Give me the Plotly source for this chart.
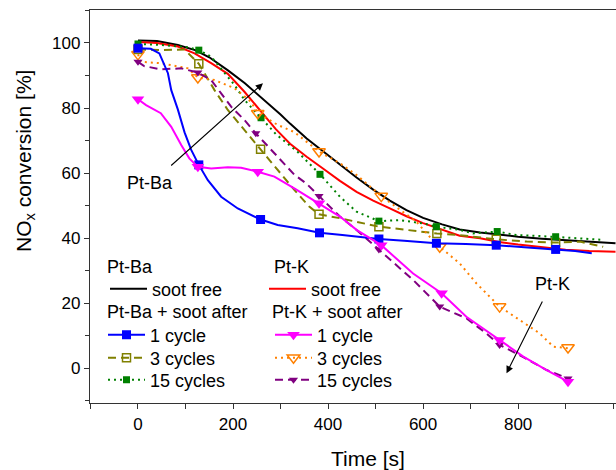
import plotly.graph_objects as go

FONT = "Liberation Sans, Arial, sans-serif"

# ---------------- data (time [s], NOx conversion [%]) ----------------
# Pt-Ba soot free (black)
ba_free_t = [0, 40, 84, 120, 150, 190, 225, 260, 300, 320, 355, 390, 425, 460, 495, 530, 565, 600, 640, 677, 720, 760, 800, 850, 900, 950, 1005]
ba_free_y = [100.8, 100.6, 99.4, 97.8, 95.6, 91.5, 87.6, 83.2, 78.0, 75.2, 70.6, 66.6, 62.5, 58.6, 54.9, 51.5, 48.6, 46.2, 44.2, 42.6, 41.7, 41.0, 40.4, 39.8, 39.3, 38.9, 38.4]

# Pt-K soot free (red)
k_free_t = [0, 40, 84, 119, 154, 189, 224, 259, 290, 320, 355, 390, 425, 460, 495, 530, 565, 600, 640, 677, 720, 760, 800, 850, 900, 950, 1005]
k_free_y = [100.3, 100.0, 98.9, 96.8, 93.8, 90.5, 85.0, 79.0, 73.5, 69.0, 65.0, 61.3, 57.6, 54.2, 51.5, 49.1, 46.7, 44.6, 42.6, 40.7, 39.9, 38.8, 38.0, 37.1, 36.4, 36.0, 35.8]

# Pt-Ba + soot after 1 cycle (blue)
ba1_t = [0, 27, 45, 63, 70, 84, 98, 112, 128, 147, 175, 210, 258, 294, 336, 382, 430, 507, 560, 628, 690, 754, 820, 879, 920, 955]
ba1_y = [98.4, 98.2, 96.8, 90.7, 85.5, 79.5, 72.5, 67.1, 62.5, 57.8, 52.7, 49.1, 45.7, 44.0, 43.0, 41.6, 40.9, 39.7, 39.2, 38.4, 38.2, 37.8, 37.1, 36.5, 36.0, 35.3]
ba1_mt = [0, 128, 258, 382, 507, 628, 754, 879]
ba1_my = [98.4, 62.5, 45.7, 41.6, 39.7, 38.4, 37.8, 36.5]

# Pt-Ba + soot after 3 cycles (olive)
ba3_t = [0, 48, 98, 128, 140, 161, 189, 217, 258, 294, 329, 361, 381, 425, 460, 507, 565, 629, 677, 705, 754, 818, 879, 930, 979]
ba3_y = [98.0, 97.8, 98.0, 93.6, 90.7, 85.5, 79.4, 74.5, 67.3, 60.9, 54.8, 49.6, 47.3, 46.1, 45.0, 43.5, 42.5, 41.4, 40.9, 40.4, 39.6, 38.9, 38.6, 38.9, 37.3]
ba3_mt = [0, 128, 258, 381, 507, 629, 754, 879]
ba3_my = [98.0, 93.6, 67.3, 47.3, 43.5, 41.4, 39.6, 38.6]

# Pt-Ba + soot after 15 cycles (green)
ba15_t = [0, 48, 105, 128, 154, 182, 203, 224, 259, 290, 336, 383, 425, 460, 507, 551, 600, 628, 677, 705, 756, 797, 846, 879, 930, 980]
ba15_y = [99.7, 99.4, 98.7, 97.8, 95.8, 90.7, 87.1, 82.5, 77.0, 72.0, 66.5, 59.6, 52.7, 48.1, 45.2, 45.5, 44.5, 43.5, 42.5, 41.4, 42.0, 40.9, 40.6, 40.4, 39.9, 39.4]
ba15_mt = [0, 128, 259, 383, 507, 628, 756, 879]
ba15_my = [99.7, 97.8, 77.0, 59.6, 45.2, 43.5, 42.0, 40.4]

# Pt-K + soot after 1 cycle (magenta)
k1_t = [0, 17, 48, 70, 91, 108, 126, 154, 189, 217, 252, 287, 329, 381, 425, 460, 512, 579, 639, 691, 761, 811, 860, 905]
k1_y = [82.7, 80.9, 78.4, 74.2, 68.6, 64.5, 61.9, 61.4, 61.8, 61.6, 60.4, 58.9, 55.3, 50.7, 46.6, 42.5, 37.8, 29.1, 23.0, 15.8, 8.6, 3.5, -0.6, -4.2]
k1_mt = [0, 126, 252, 381, 512, 639, 761, 905]
k1_my = [82.7, 61.9, 60.4, 50.7, 37.8, 23.0, 8.6, -4.2]

# Pt-K + soot after 3 cycles (orange)
k3_t = [0, 6, 48, 105, 126, 161, 203, 238, 252, 294, 329, 381, 425, 460, 512, 551, 586, 614, 635, 677, 712, 761, 803, 845, 874, 905]
k3_y = [96.5, 94.2, 93.8, 92.2, 89.4, 88.6, 86.1, 81.9, 78.4, 74.8, 72.6, 66.6, 63.0, 59.4, 52.9, 48.6, 45.0, 40.4, 37.3, 32.2, 26.1, 18.9, 14.8, 10.7, 6.6, 6.1]
k3_mt = [0, 126, 252, 381, 512, 635, 761, 905]
k3_my = [96.5, 89.4, 78.4, 66.6, 52.9, 37.3, 18.9, 6.3]

# Pt-K + soot after 15 cycles (purple)
k15_t = [0, 13, 48, 91, 126, 154, 175, 196, 224, 248, 294, 329, 354, 381, 425, 460, 507, 579, 635, 691, 733, 761, 803, 860, 905]
k15_y = [94.2, 92.9, 91.9, 92.2, 90.9, 88.6, 84.5, 80.4, 76.3, 72.2, 65.0, 59.5, 56.8, 52.9, 46.6, 42.5, 36.5, 27.1, 18.9, 15.3, 10.7, 7.1, 4.0, -0.6, -3.2]
k15_mt = [0, 126, 248, 381, 507, 635, 761, 905]
k15_my = [94.2, 90.9, 72.2, 52.9, 36.5, 18.9, 7.1, -3.2]

x_ticks = [0, 200, 400, 600, 800]
y_ticks = [0, 20, 40, 60, 80, 100]

# ---------------- figure ----------------
fig = go.Figure()

def add_series(t, y, mt, my, color, dash, symbol, msize, name, legend, open_marker=False):
    fig.add_trace(go.Scatter(x=t, y=y, mode="lines",
                             line=dict(color=color, width=2, dash=dash),
                             showlegend=False, hoverinfo="skip"))
    mk = None
    if mt is not None:
        mk = dict(symbol=symbol, size=msize, color=color,
                  line=dict(color=color, width=1.5 if open_marker else 0))
        fig.add_trace(go.Scatter(x=mt, y=my, mode="markers", marker=mk,
                                 showlegend=False, hoverinfo="skip"))
    fig.add_trace(go.Scatter(x=[None], y=[None],
                             mode="lines+markers" if mk else "lines",
                             line=dict(color=color, width=2, dash=dash),
                             marker=mk, name=name, legend=legend,
                             showlegend=True))

add_series(ba_free_t, ba_free_y, None, None, "#000000", "solid", None, 0, "soot free", "legend")
add_series(k_free_t, k_free_y, None, None, "#ff0000", "solid", None, 0, "soot free", "legend5")
add_series(ba3_t, ba3_y, ba3_mt, ba3_my, "#808000", "8px,5px", "square-open", 8, "3 cycles", "legend3", True)
add_series(ba15_t, ba15_y, ba15_mt, ba15_my, "#008000", "2px,4px", "square", 7, "15 cycles", "legend4")
add_series(k3_t, k3_y, k3_mt, k3_my, "#ff8000", "2px,4px", "triangle-down-open", 11, "3 cycles", "legend7", True)
add_series(k15_t, k15_y, k15_mt, k15_my, "#800080", "8px,5px", "triangle-down", 8, "15 cycles", "legend8")
add_series(ba1_t, ba1_y, ba1_mt, ba1_my, "#0000ff", "solid", "square", 9, "1 cycle", "legend2")
add_series(k1_t, k1_y, k1_mt, k1_my, "#ff00ff", "solid", "triangle-down", 11, "1 cycle", "legend6")

# plot area geometry (pixels) for legend placement
L, R, T, B = 90, 0, 10, 67
W, H = 616, 470
PW, PH = W - L - R, H - T - B

def px(xp):
    return (xp - L) / PW

def py(yp):
    return (H - B - yp) / PH

legend_rows = {
    "legend": (105, 289), "legend2": (103, 335), "legend3": (103, 358), "legend4": (103, 380),
    "legend5": (264, 289), "legend6": (270, 335), "legend7": (270, 358), "legend8": (270, 380),
}
for key, (lx, ly) in legend_rows.items():
    fig.update_layout({key: dict(x=px(lx), y=py(ly), xanchor="left", yanchor="middle",
                                 bgcolor="rgba(0,0,0,0)", borderwidth=0, itemwidth=37,
                                 font=dict(family=FONT, size=18, color="black"),
                                 tracegroupgap=0)})

annotations = [
    dict(text="Pt-Ba", x=px(105), y=py(267), xanchor="left"),
    dict(text="Pt-Ba + soot after", x=px(105), y=py(312), xanchor="left"),
    dict(text="Pt-K", x=px(272), y=py(267), xanchor="left"),
    dict(text="Pt-K + soot after", x=px(270), y=py(312), xanchor="left"),
    dict(text="NO<sub>x</sub> conversion [%]", x=px(25), y=py(161), xanchor="center",
         textangle=-90, font=dict(family=FONT, size=21, color="black")),
    dict(text="Time [s]", x=px(368), y=py(458), xanchor="center",
         font=dict(family=FONT, size=21, color="black")),
]
for a in annotations:
    a.update(xref="paper", yref="paper", showarrow=False, yanchor="middle")
    a.setdefault("font", dict(family=FONT, size=18, color="black"))
    fig.add_annotation(**a)

# arrows and labels in data coordinates
fig.add_annotation(x=263, y=87.6, ax=66.7, ay=61.9, xref="x", yref="y", axref="x", ayref="y",
                   text="", showarrow=True, arrowhead=2, arrowsize=1.3, arrowwidth=1.1,
                   arrowcolor="black", standoff=0)
fig.add_annotation(x=775.6, y=-1.6, ax=852.6, ay=20.9, xref="x", yref="y", axref="x", ayref="y",
                   text="", showarrow=True, arrowhead=2, arrowsize=1.3, arrowwidth=1.1,
                   arrowcolor="black", standoff=0)
fig.add_annotation(x=25.7, y=56.9, xref="x", yref="y", text="Pt-Ba", showarrow=False,
                   font=dict(family=FONT, size=18, color="black"))
fig.add_annotation(x=872.4, y=25.8, xref="x", yref="y", text="Pt-K", showarrow=False,
                   font=dict(family=FONT, size=18, color="black"))

fig.update_layout(
    width=W, height=H,
    margin=dict(l=L, r=R, t=T, b=B),
    plot_bgcolor="white", paper_bgcolor="white",
    font=dict(family=FONT, size=17, color="black"),
    xaxis=dict(range=[-101, 1006], showgrid=False, zeroline=False,
               showline=True, linecolor="#333333", linewidth=1.3, mirror=True,
               tickmode="array", tickvals=x_ticks, ticks="outside", ticklen=5,
               tickcolor="#333333", tickwidth=1,
               minor=dict(dtick=100, tick0=0, ticks="outside", ticklen=5, tickcolor="#333333"),
               tickfont=dict(family=FONT, size=17, color="black")),
    yaxis=dict(range=[-10.75, 110.15], showgrid=False, zeroline=False,
               showline=True, linecolor="#333333", linewidth=1.3, mirror=False,
               tickmode="array", tickvals=y_ticks, ticks="outside", ticklen=5,
               tickcolor="#333333", tickwidth=1,
               minor=dict(dtick=10, tick0=0, ticks="outside", ticklen=4, tickcolor="#333333"),
               tickfont=dict(family=FONT, size=17, color="black")),
    xaxis2=dict(range=[-101, 1006], overlaying="x", side="top", anchor="y",
                showgrid=False, zeroline=False, showline=False, showticklabels=False,
                tick0=0, dtick=100, ticks="inside", ticklen=3, tickcolor="#333333"),
)

fig.write_html("out.html")
